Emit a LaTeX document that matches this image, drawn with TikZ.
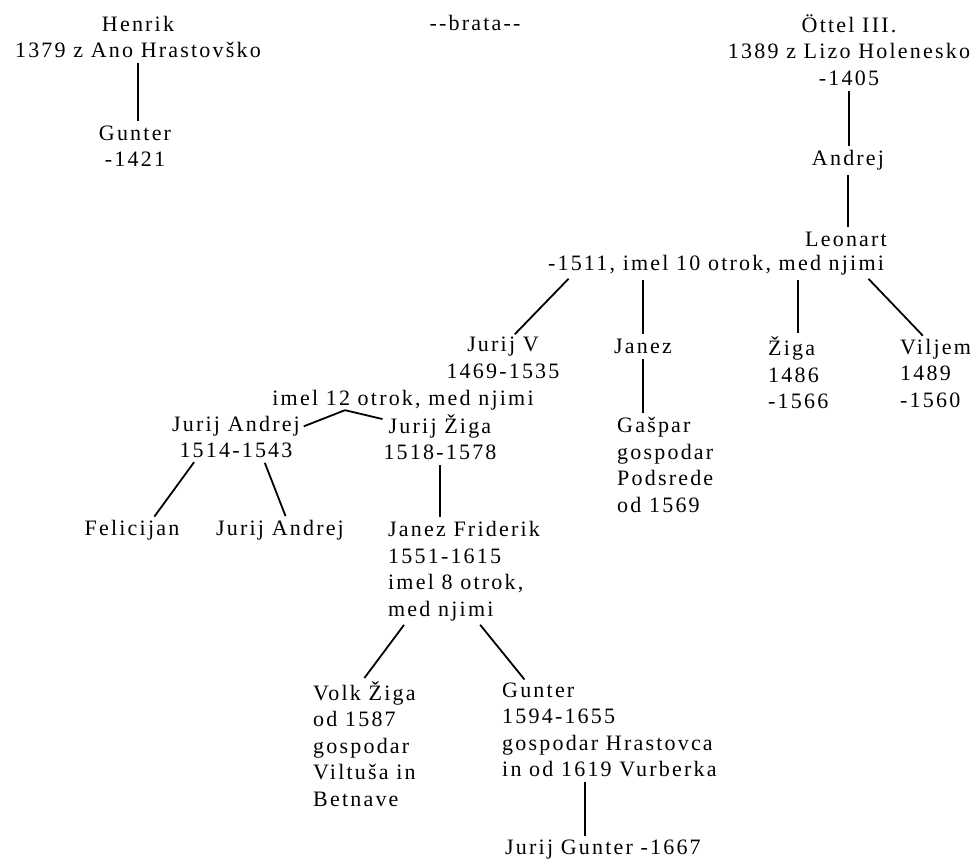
\documentclass[tikz,border=0pt]{standalone}
\usepackage{fontspec}
\setmainfont{Liberation Serif}[LetterSpace=10]
\tikzset{
	person/.style={inner sep=0pt, font=\fontsize{22}{26.5}\selectfont, align=center},
	kin/.style={line width=1.8pt, shorten <=5pt, shorten >=4pt}
}
\begin{document}
\begin{tikzpicture}[x=1pt,y=-1pt]
	\useasboundingbox (0,0) rectangle (974,861);
	\node[person] (henrik) at (138,37) {Henrik\\1379 z Ano Hrastovško};
	\node[person] (brata) at (475,23) {{-}{-}brata{-}{-}};
	\node[person] (ottel) at (849,50) {Öttel III.\\1389 z Lizo Holenesko\\-1405};
	\node[person] (gunter) at (135,146) {Gunter\\-1421};
	\node[person] (andrej) at (848,160) {Andrej};
	\node[person] (leonart) at (846,239) {Leonart};
	\node[person] (leonartkids) at (716,265) {-1511, imel 10 otrok, med njimi};
	\node[person] (jurijv) at (503,358) {Jurij V\\1469-1535};
	\node[person] (jurijvkids) at (403,400) {imel 12 otrok, med njimi};
	\node[person] (janez) at (643,346) {Janez};
	\node[person, align=left, anchor=west] (ziga) at (768,373) {Žiga\\1486\\-1566};
	\node[person, align=left, anchor=west] (viljem) at (900,373) {Viljem\\1489\\-1560};
	\node[person, align=left, anchor=west] (gaspar) at (617,465) {Gašpar\\gospodar\\Podsrede\\od 1569};
	\node[person] (jurijandrej) at (236,437) {Jurij Andrej\\1514-1543};
	\node[person] (jurijziga) at (440,437) {Jurij Žiga\\1518-1578};
	\node[person] (felicijan) at (132,530) {Felicijan};
	\node[person] (jurijandrejml) at (280,530) {Jurij Andrej};
	\node[person, align=left, anchor=west] (friderik) at (388,571) {Janez Friderik\\1551-1615\\imel 8 otrok,\\med njimi};
	\node[person, align=left, anchor=west] (volk) at (313,744) {Volk Žiga\\od 1587\\gospodar\\Viltuša in\\Betnave};
	\node[person, align=left, anchor=west] (gunterml) at (502,730) {Gunter\\1594-1655\\gospodar Hrastovca\\in od 1619 Vurberka};
	\node[person, anchor=west] (jurijgunter) at (505,850) {Jurij Gunter -1667};
	\draw[kin] (henrik.south) -- (henrik.south |- gunter.north);
	\draw[kin] (ottel.south) -- (ottel.south |- andrej.north);
	\draw[kin] (andrej.south) -- (andrej.south |- leonart.north);
	\draw[kin] ([xshift=-144pt]leonartkids.south) -- ([xshift=9pt]jurijv.north);
	\draw[kin] (leonartkids.south -| janez.north) -- (janez.north);
	\draw[kin] (leonartkids.south -| ziga.north) -- (ziga.north);
	\draw[kin] ([xshift=149pt]leonartkids.south) -- ([xshift=-10pt]viljem.north);
	\draw[kin] (janez.south) -- (janez.south |- gaspar.north);
	\draw[kin, shorten <=0pt] ([xshift=-58pt]jurijvkids.south) -- ([yshift=-12pt]jurijandrej.north east);
	\draw[kin, shorten <=0pt] ([xshift=-58pt]jurijvkids.south) -- ([xshift=3pt,yshift=-6pt]jurijziga.north west);
	\draw[kin] ([xshift=-39pt]jurijandrej.south) -- ([xshift=20pt]felicijan.north);
	\draw[kin] ([xshift=27pt]jurijandrej.south) -- ([xshift=7pt]jurijandrejml.north);
	\draw[kin] (jurijziga.south) -- (jurijziga.south |- friderik.north);
	\draw[kin] ([xshift=19pt]friderik.south west) -- ([xshift=49pt]volk.north west);
	\draw[kin] ([xshift=89pt]friderik.south west) -- ([xshift=25pt]gunterml.north west);
	\draw[kin] ([xshift=83pt]gunterml.south west) -- ([xshift=80pt]jurijgunter.north west);
\end{tikzpicture}
\end{document}
